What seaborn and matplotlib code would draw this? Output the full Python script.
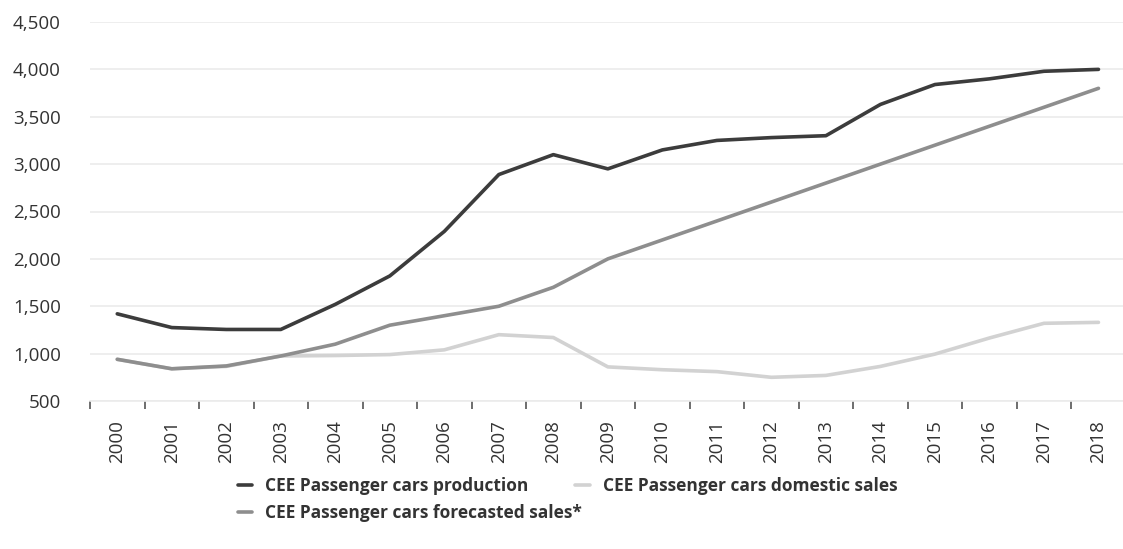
import pandas as pd
import numpy as np
import seaborn as sb
import matplotlib.pyplot as plt

### Data (thousand units).
years = [str(y) for y in range(2000, 2019)]
production = [1420, 1275, 1255, 1255, 1520, 1820, 2290, 2890, 3100, 2950,
              3150, 3250, 3280, 3300, 3630, 3840, 3900, 3980, 4000]
forecast = [940, 840, 870, 975, 1100, 1300, 1400, 1500, 1700, 2000,
            2200, 2400, 2600, 2800, 3000, 3200, 3400, 3600, 3800]
domestic = [940, 840, 865, 975, 980, 990, 1040, 1200, 1170, 860,
            830, 810, 750, 770, 865, 995, 1165, 1320, 1330]

names = ['CEE Passenger cars production',
         'CEE Passenger cars forecasted sales*',
         'CEE Passenger cars domestic sales']
colours = ['#3c3c3c', '#8e8e8e', '#d2d2d2']

### Long format for seaborn.
data = pd.DataFrame({'year': years * 3,
                     'value': production + forecast + domestic,
                     'series': [names[0]] * 19 + [names[1]] * 19 + [names[2]] * 19})
data['x'] = data['year'].map({y: i for i, y in enumerate(years)})

sb.set_style("white")
plt.rcParams['font.family'] = ['Open Sans', 'DejaVu Sans']

fig = plt.figure(figsize=(11.23, 5.49), dpi=100)
ax = fig.add_axes([90 / 1123, 1 - 401 / 549, 1 - 90 / 1123, (401 - 22) / 549])

### Draw domestic first so the others sit on top where they overlap.
order = [names[2], names[1], names[0]]
for name in order:
    sub = data[data['series'] == name]
    sb.lineplot(x='x', y='value', data=sub, ax=ax, color=colours[names.index(name)],
                linewidth=2.6, label=name, legend=False)

ax.set_xlim(-0.5, 18.45)
ax.set_ylim(500, 4500)
ax.set_yticks(range(500, 4501, 500))
ax.set_yticklabels(['{:,}'.format(v) for v in range(500, 4501, 500)], fontsize=13.5, color='#333333')
ax.yaxis.grid(True, color='#ebebeb', linewidth=1.2)
ax.set_axisbelow(True)
ax.tick_params(axis='y', length=0, pad=21)

### Category labels in the middle, tick marks on the borders.
ax.set_xticks(range(19))
ax.set_xticklabels(years, rotation=90, fontsize=13.5, color='#333333')
ax.set_xticks(np.arange(-0.5, 18.5, 1), minor=True)
ax.tick_params(axis='x', which='major', bottom=True, length=0, pad=14)
ax.tick_params(axis='x', which='minor', bottom=True, length=5.5, width=1.2, color='#555555', direction='out')
ax.set_xlabel('')
ax.set_ylabel('')
for s in ['top', 'right', 'left']:
    ax.spines[s].set_visible(False)
ax.spines['bottom'].set_color('#ebebeb')
ax.spines['bottom'].set_linewidth(1.2)

### Legend below the chart: two entries on the first row, one on the second.
handles = [plt.Line2D([0], [0], color=c, linewidth=2.6) for c in colours]
opts = dict(loc='upper left', frameon=False, handlelength=0.85, handletextpad=0.75,
            columnspacing=2.65, prop={'size': 12.5, 'weight': 'bold'}, labelcolor='#333333')
fig.legend([handles[0], handles[2]], [names[0], names[2]], ncol=2,
           bbox_to_anchor=(222 / 1123, 1 - 461 / 549), **opts)
fig.legend([handles[1]], [names[1]], ncol=1,
           bbox_to_anchor=(222 / 1123, 1 - 488 / 549), **opts)

plt.savefig('out.png', dpi=100)
